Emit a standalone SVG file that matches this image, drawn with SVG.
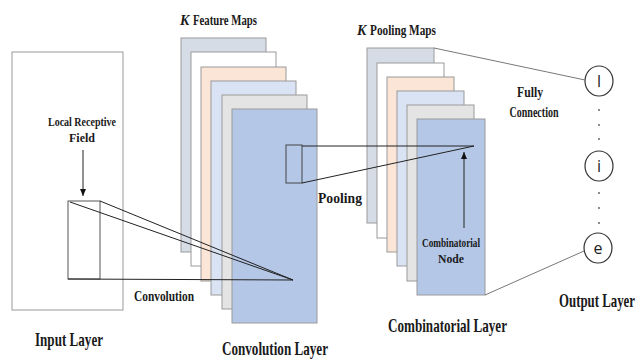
<svg xmlns="http://www.w3.org/2000/svg" width="640" height="360" viewBox="0 0 640 360">
<defs>
<style>
.lbl{font-family:"Liberation Serif","Times New Roman",serif;font-weight:bold;fill:#1a1a1a}
.big{font-size:19.5px}
.mid{font-size:14px}
.sm{font-size:12px}
.it{font-style:italic}
.map{stroke:#9a9a9a;stroke-width:1}
.c1{fill:#d6dce5}.c2{fill:#ffffff}.c3{fill:#fbe5d6}.c4{fill:#dae3f3}.c5{fill:#e4e4e4}.c6{fill:#b4c7e7}
.ln{stroke:#222;stroke-width:1;fill:none}
.fc{stroke:#777;stroke-width:1;fill:none}
.node{fill:#fff;stroke:#333;stroke-width:1.2}
.nt{font-family:"Open Sans","Liberation Sans",sans-serif;font-size:16px;fill:#222}
</style>
<marker id="ah" markerWidth="8" markerHeight="8" refX="7" refY="4" orient="auto" markerUnits="userSpaceOnUse">
<path d="M0,1 L7,4 L0,7 z" fill="#111"/>
</marker>
</defs>

<g id="input-layer">
<rect x="12" y="52" width="111" height="258" fill="#fff" stroke="#999"/>
<text class="lbl sm" x="82" y="126" text-anchor="middle" textLength="68" lengthAdjust="spacingAndGlyphs">Local Receptive</text>
<text class="lbl sm" x="82" y="142" text-anchor="middle" textLength="26" lengthAdjust="spacingAndGlyphs">Field</text>
<rect x="68" y="201" width="32" height="78" fill="#fff" stroke="#555"/>
<text class="lbl big" x="35" y="346" textLength="68" lengthAdjust="spacingAndGlyphs">Input Layer</text>
</g>

<g id="convolution-layer">
<rect class="map c1" x="181" y="38" width="85" height="214"/>
<rect class="map c2" x="191" y="52" width="85" height="214"/>
<rect class="map c3" x="201" y="67" width="85" height="214"/>
<rect class="map c4" x="211" y="81" width="85" height="214"/>
<rect class="map c5" x="222" y="95" width="85" height="214"/>
<rect class="map c6" x="232" y="109" width="85" height="214"/>
<rect x="286" y="145" width="16" height="38" fill="#b4c7e7" stroke="#444"/>
<text class="lbl mid it" x="180" y="25">K</text>
<text class="lbl mid" x="193" y="25" textLength="64" lengthAdjust="spacingAndGlyphs">Feature Maps</text>
<text class="lbl big" x="222" y="355" textLength="106" lengthAdjust="spacingAndGlyphs">Convolution Layer</text>
</g>

<g id="combinatorial-layer">
<rect class="map c1" x="367" y="48" width="67" height="175"/>
<rect class="map c2" x="377" y="63" width="67" height="175"/>
<rect class="map c3" x="387" y="77" width="67" height="175"/>
<rect class="map c4" x="397" y="91" width="67" height="175"/>
<rect class="map c5" x="407" y="105" width="67" height="176"/>
<rect class="map c6" x="417" y="119" width="68" height="176"/>
<text class="lbl mid it" x="357" y="35">K</text>
<text class="lbl mid" x="370" y="35" textLength="66" lengthAdjust="spacingAndGlyphs">Pooling Maps</text>
<text class="lbl sm" x="451" y="247" text-anchor="middle" textLength="58" lengthAdjust="spacingAndGlyphs">Combinatorial</text>
<text class="lbl sm" x="451" y="263" text-anchor="middle" textLength="26" lengthAdjust="spacingAndGlyphs">Node</text>
<text class="lbl big" x="388" y="332" textLength="119" lengthAdjust="spacingAndGlyphs">Combinatorial Layer</text>
</g>

<g id="output-layer">
<g id="node-l">
<ellipse class="node" cx="599" cy="81" rx="14" ry="15"/>
<text class="nt" x="599" y="87" text-anchor="middle">l</text>
</g>
<g id="node-i">
<ellipse class="node" cx="599" cy="166" rx="14" ry="15"/>
<text class="nt" x="599" y="172" text-anchor="middle">i</text>
</g>
<g id="node-e">
<ellipse class="node" cx="598" cy="248" rx="14" ry="15"/>
<text class="nt" x="598" y="254" text-anchor="middle">e</text>
</g>
<g fill="#555">
<circle cx="599" cy="110" r="0.9"/><circle cx="599" cy="125" r="0.9"/><circle cx="599" cy="139" r="0.9"/>
<circle cx="599" cy="193" r="0.9"/><circle cx="599" cy="208" r="0.9"/><circle cx="599" cy="223" r="0.9"/>
</g>
<text class="lbl big" x="635" y="307" text-anchor="end" textLength="76" lengthAdjust="spacingAndGlyphs">Output Layer</text>
</g>

<g id="connectors">
<line class="ln" x1="83" y1="150" x2="83" y2="196" marker-end="url(#ah)"/>
<line class="ln" x1="70" y1="202" x2="293" y2="280"/>
<line class="ln" x1="100" y1="201" x2="293" y2="280"/>
<line class="ln" x1="68" y1="279" x2="293" y2="280"/>
<line class="ln" x1="302" y1="146" x2="474" y2="146"/>
<line class="ln" x1="302" y1="183" x2="474" y2="146"/>
<line class="ln" x1="464" y1="228" x2="464" y2="152" marker-end="url(#ah)"/>
<line class="fc" x1="434" y1="48" x2="585" y2="80"/>
<line class="fc" x1="485" y1="295" x2="584" y2="251"/>
<text class="lbl mid" x="134" y="301" textLength="60" lengthAdjust="spacingAndGlyphs">Convolution</text>
<text class="lbl mid" x="318" y="203" textLength="44" lengthAdjust="spacingAndGlyphs">Pooling</text>
<text class="lbl mid" x="530" y="97" text-anchor="middle" textLength="26" lengthAdjust="spacingAndGlyphs">Fully</text>
<text class="lbl mid" x="534" y="117" text-anchor="middle" textLength="49" lengthAdjust="spacingAndGlyphs">Connection</text>
</g>
</svg>
